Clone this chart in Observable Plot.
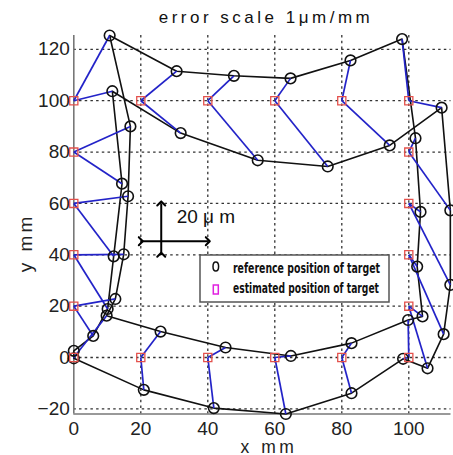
<!DOCTYPE html>
<html><head><meta charset="utf-8">
<script src="https://cdn.jsdelivr.net/npm/d3@7"></script>
<script src="https://cdn.jsdelivr.net/npm/@observablehq/plot@0.6"></script>
<style>
html,body{margin:0;padding:0;background:#fff;}
</style></head><body><div id="chart"></div>
<script>
// estimated positions of targets (grid on the boundary), mm
const targetX = [0,20,40,60,80,100,100,100,100,100,100,80,60,40,20,0,0,0,0,0];
const targetY = [100,100,100,100,100,100,80,60,40,20,0,0,0,0,0,0,20,40,60,80];
// reference positions, set A (ring order, aligned with targets)
const refAX = [10.7,30.7,47.8,64.7,82.6,98.0,102.0,103.5,102.5,104.1,99.8,82.9,64.8,45.3,25.9,9.8,12.4,14.9,16.2,16.9];
const refAY = [125.4,111.5,109.7,108.7,115.7,124.0,85.4,56.7,35.4,16.0,14.6,5.6,0.6,3.9,10.1,16.3,22.8,40.2,62.8,90.0];
// reference positions, set B (ring order)
const refBX = [11.5,31.9,54.9,75.8,94.3,109.8,112.4,112.4,110.4,105.6,98.3,82.9,63.3,41.8,20.9,0,0,5.8,10.1,11.9,14.4];
const refBY = [103.7,87.4,76.8,74.4,82.6,97.3,57.3,28.3,9.1,-4.2,-0.5,-13.9,-22.0,-19.7,-12.6,-0.3,2.6,8.4,18.9,39.4,67.7];
// which set-B point belongs to each target
const targetToB = [0,1,2,3,4,5,6,7,8,9,10,11,12,13,14,15,17,18,19,20];
// axes
const xTicks = [0,20,40,60,80,100];
const yTicks = [-20,0,20,40,60,80,100,120];
const xDomain = [0,112.6];
const yDomain = [-22,125.4];
// 20 µm scale bar
const barH = {x1:[20], x2:[40], y:[45.3]};
const barV = {x:[26.1], y1:[40], y2:[60]};
const barLabel = {x:[30.7], y:[54.8], text:["20 \u03bc m"]};
const titleText = "error scale 1\u03bcm/mm";
const legendLabels = ["reference position of target","estimated position of target"];

const targets = targetX.map((x,i)=>({x, y:targetY[i]}));
const ringA = refAX.map((x,i)=>({x, y:refAY[i]}));
const ringB = refBX.map((x,i)=>({x, y:refBY[i]}));
const ringAClosed = [...ringA, ringA[0]];
const ringBClosed = [...ringB, ringB[0]];
const links = [];
targets.forEach((t,i)=>{
  links.push({x1:t.x,y1:t.y,x2:ringA[i].x,y2:ringA[i].y});
  const b = ringB[targetToB[i]];
  links.push({x1:t.x,y1:t.y,x2:b.x,y2:b.y});
});
const allRefs = [...ringA, ...ringB];

const W = 453, H = 455;
const mL = 73.3, mR = 2.5, mT = 35, mB = 41.5;

const chart = Plot.plot({
  width: W, height: H,
  marginLeft: mL, marginRight: mR, marginTop: mT, marginBottom: mB,
  style: {fontFamily: "'Liberation Sans', Arial, sans-serif", fontSize: "19px", color: "#222", background: "#fff", overflow: "visible"},
  x: {domain: xDomain, label: null},
  y: {domain: yDomain, label: null},
  marks: [
    Plot.gridY(yTicks, {stroke: "#333", strokeOpacity: 1, strokeWidth: 1.3, strokeDasharray: "2.5,3.2"}),
    Plot.gridX(xTicks.filter(d=>d>0), {stroke: "#333", strokeOpacity: 1, strokeWidth: 1.3, strokeDasharray: "2.5,3.2"}),
    Plot.ruleX([xDomain[0]], {stroke: "#777", strokeWidth: 1.6}),
    Plot.ruleY([yDomain[0]], {stroke: "#777", strokeWidth: 1.6}),
    Plot.axisX(xTicks, {tickSize: 0, tickPadding: 7, label: null, style: "letter-spacing:2px"}),
    Plot.axisY(yTicks, {tickSize: 0, tickPadding: 4, label: null, style: "letter-spacing:2px"}),
    Plot.line(ringAClosed, {x: "x", y: "y", stroke: "#111", strokeWidth: 1.6}),
    Plot.line(ringBClosed, {x: "x", y: "y", stroke: "#111", strokeWidth: 1.6}),
    Plot.link(links, {x1: "x1", y1: "y1", x2: "x2", y2: "y2", stroke: "#2323c8", strokeWidth: 1.7}),
    Plot.dot(allRefs, {x: "x", y: "y", r: 5.3, stroke: "#111", strokeWidth: 1.6, fill: "none"}),
    Plot.dot(targets, {x: "x", y: "y", r: 4.6, symbol: "square", stroke: "#e4514c", strokeWidth: 1.3, fill: "none"}),
    Plot.link(barH.x1, {x1: (d,i)=>barH.x1[i], x2: (d,i)=>barH.x2[i], y1: (d,i)=>barH.y[i], y2: (d,i)=>barH.y[i], stroke: "#000", strokeWidth: 2, markerStart: "arrow", markerEnd: "arrow"}),
    Plot.link(barV.x, {x1: (d,i)=>barV.x[i], x2: (d,i)=>barV.x[i], y1: (d,i)=>barV.y1[i], y2: (d,i)=>barV.y2[i], stroke: "#000", strokeWidth: 2, markerStart: "arrow", markerEnd: "arrow"}),
    Plot.text(barLabel.text, {x: (d,i)=>barLabel.x[i], y: (d,i)=>barLabel.y[i], text: d=>d, textAnchor: "start", fontSize: 19, fill: "#111"})
  ]
});
document.getElementById("chart").appendChild(chart);

const svg = d3.select(chart);
// title
svg.append("text").attr("x", 266).attr("y", 23).attr("text-anchor", "middle")
  .attr("font-size", 17).attr("fill", "#111").style("letter-spacing", "3.5px")
  .text(titleText);
// axis labels
svg.append("text").attr("x", 269).attr("y", 452.5).attr("text-anchor", "middle")
  .attr("font-size", 17.5).attr("fill", "#222").style("letter-spacing", "3.5px").text("x mm");
svg.append("text").attr("transform", "translate(32,243) rotate(-90)").attr("text-anchor", "middle")
  .attr("font-size", 19).attr("fill", "#222").style("letter-spacing", "3px").text("y mm");
// legend
const lg = svg.append("g");
lg.append("rect").attr("x", 200).attr("y", 255).attr("width", 189).attr("height", 47)
  .attr("fill", "#fff").attr("stroke", "#555").attr("stroke-width", 1.5);
lg.append("ellipse").attr("cx", 215.8).attr("cy", 266.5).attr("rx", 2.8).attr("ry", 4.5)
  .attr("fill", "none").attr("stroke", "#111").attr("stroke-width", 1.5);
lg.append("rect").attr("x", 213.3).attr("y", 285).attr("width", 5).attr("height", 9)
  .attr("fill", "none").attr("stroke", "#e020e0").attr("stroke-width", 1.5);
legendLabels.forEach((t,i)=>{
  lg.append("text").attr("x", 233).attr("y", 272.5 + i*20).attr("text-anchor", "start")
    .attr("font-family", "'Liberation Sans Narrow','DejaVu Sans Condensed',sans-serif")
    .attr("font-weight", "bold").attr("font-size", 14).attr("fill", "#111")
    .attr("textLength", i===0 ? 147 : 146).attr("lengthAdjust", "spacingAndGlyphs")
    .text(t);
});
</script>
</body></html>
